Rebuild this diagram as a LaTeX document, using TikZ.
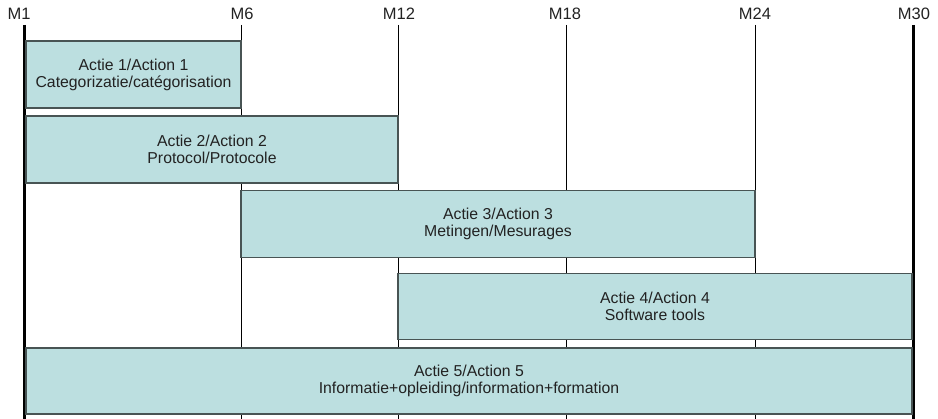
\documentclass[tikz,border=0pt]{standalone}
\usepackage{fontspec}
\setmainfont{Liberation Sans}
\usepackage{xcolor}
\definecolor{actfill}{RGB}{188,223,224}
\definecolor{actline}{RGB}{72,84,84}
\definecolor{acttext}{RGB}{34,34,34}

\begin{document}
\begin{tikzpicture}[x=1pt, y=-1pt,
  month/.style={shape=rectangle, inner sep=0pt, text=acttext, font=\fontsize{16.5}{17}\selectfont},
  action/.style={shape=rectangle, draw=actline, line width=1.3pt, fill=actfill, align=center, inner sep=0pt, text=acttext, font=\fontsize{15.8}{17}\selectfont}]
\useasboundingbox (0,0) rectangle (938,419);
\node at (19, 14) [month] (m1) {M1};
\node at (242, 14) [month] (m6) {M6};
\node at (399, 14) [month] (m12) {M12};
\node at (565, 14) [month] (m18) {M18};
\node at (755, 14) [month] (m24) {M24};
\node at (914, 14) [month] (m30) {M30};
\coordinate (t1) at (24.5, 25);
\coordinate (b1) at (24.5, 419);
\coordinate (t6) at (241, 25);
\coordinate (b6) at (241, 419);
\coordinate (t12) at (398, 25);
\coordinate (b12) at (398, 419);
\coordinate (t18) at (566, 25);
\coordinate (b18) at (566, 419);
\coordinate (t24) at (755, 25);
\coordinate (b24) at (755, 419);
\coordinate (t30) at (913.5, 25);
\coordinate (b30) at (913.5, 419);
\draw [line width=3pt] (t1) to (b1);
\draw [line width=0.9pt] (t6) to (b6);
\draw [line width=0.9pt] (t12) to (b12);
\draw [line width=0.9pt] (t18) to (b18);
\draw [line width=0.9pt] (t24) to (b24);
\draw [line width=3pt] (t30) to (b30);
% acties
\node at (133.5, 74.5) [action, minimum width=215pt, minimum height=67pt] (a1) {Actie 1/Action 1\\Categorizatie/catégorisation};
\node at (212, 149.5) [action, minimum width=372pt, minimum height=67pt] (a2) {Actie 2/Action 2\\Protocol/Protocole};
\node at (498, 224) [action, minimum width=514pt, minimum height=67pt] (a3) {Actie 3/Action 3\\Metingen/Mesurages};
\node at (655, 306.5) [action, minimum width=514pt, minimum height=66pt] (a4) {Actie 4/Action 4\\Software tools};
\node at (469, 381) [action, minimum width=886pt, minimum height=66pt] (a5) {Actie 5/Action 5\\Informatie+opleiding/information+formation};
\end{tikzpicture}
\end{document}
